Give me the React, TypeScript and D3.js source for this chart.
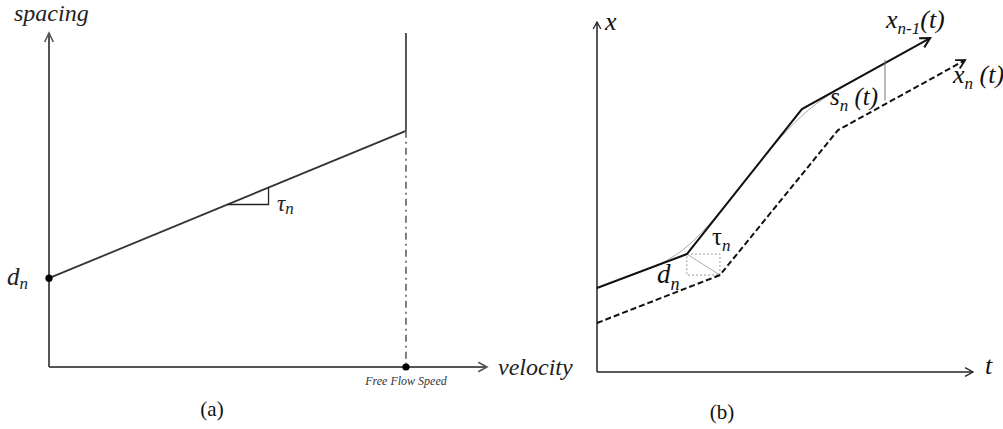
import React from "react";
import * as d3 from "d3";

// Panel (a): spacing–velocity relation
const velocityDomain = [0, 12.27];
const spacingDomain = [0, 10];
const freeFlowSpeed = 10;
const jamSpacing = 2.66; // d_n
const reactionTime = 0.441; // tau_n (slope)
const slopeMarker = [5, 6.15]; // velocities spanning the slope triangle

// Panel (b): trajectories
const timeDomain = [0, 10];
const positionDomain = [0, 10];
const leaderT = [0, 2.39, 5.45, 8.86];
const leaderX = [2.4, 3.37, 7.51, 9.54];
const followerT = [0, 3.27, 6.41, 9.79];
const followerX = [1.4, 2.77, 6.91, 8.91];
const smoothT = [1.2, 2.39, 3.9, 5.45, 6.9];
const smoothX = [2.89, 3.37, 5.42, 7.51, 8.37];
const gapT = 7.66;
const gapLeaderX = 8.92;
const gapFollowerX = 7.76;

const FONT = "Liberation Serif";

function chevron(x: number, y: number, angle: number, len = 11, spread = 0.5) {
  const a1 = angle + Math.PI - spread;
  const a2 = angle + Math.PI + spread;
  return `M${x + len * Math.cos(a1)},${y + len * Math.sin(a1)}L${x},${y}L${x + len * Math.cos(a2)},${y + len * Math.sin(a2)}`;
}

export default function App() {
  // panel (a) scales
  const ax = d3.scaleLinear().domain(velocityDomain).range([49, 487]);
  const ay = d3.scaleLinear().domain(spacingDomain).range([367, 33]);
  const spacingAt = (v: number) => jamSpacing + reactionTime * v;

  // panel (b) scales
  const bx = d3.scaleLinear().domain(timeDomain).range([597, 973]);
  const by = d3.scaleLinear().domain(positionDomain).range([372, 22]);

  const leader = leaderT.map((t, i) => [bx(t), by(leaderX[i])] as [number, number]);
  const follower = followerT.map((t, i) => [bx(t), by(followerX[i])] as [number, number]);
  const smooth = smoothT.map((t, i) => [bx(t), by(smoothX[i])] as [number, number]);
  const polyline = d3.line();
  const smoothLine = d3.line().curve(d3.curveBasis);

  const lastAngle = (pts: [number, number][]) => {
    const [p, q] = [pts[pts.length - 2], pts[pts.length - 1]];
    return Math.atan2(q[1] - p[1], q[0] - p[0]);
  };
  const lEnd = leader[leader.length - 1];
  const fEnd = follower[follower.length - 1];
  const lKink = leader[1];
  const fKink = follower[1];

  const axisA = "#555";
  const x0 = ax(0), y0 = ay(0);
  const vff = ax(freeFlowSpeed);

  return (
    <svg width={1003} height={429} style={{ position: "absolute", left: 0, top: 0, background: "#fff" }}>
      {/* ---------- panel (a) ---------- */}
      <g fill="none" stroke={axisA} strokeWidth={2}>
        <line x1={x0} y1={y0} x2={x0} y2={ay(10)} />
        <path d={chevron(x0, ay(10), -Math.PI / 2, 10, 0.45)} strokeWidth={1.6} />
        <line x1={x0} y1={y0} x2={ax(velocityDomain[1])} y2={y0} />
        <path d={chevron(ax(velocityDomain[1]), y0, 0, 10, 0.5)} strokeWidth={1.6} />
      </g>
      <line x1={x0} y1={ay(spacingAt(0))} x2={vff} y2={ay(spacingAt(freeFlowSpeed))} stroke="#333" strokeWidth={1.8} />
      <line x1={vff} y1={ay(spacingAt(freeFlowSpeed))} x2={vff} y2={ay(10)} stroke="#555" strokeWidth={2} />
      <line x1={vff} y1={ay(spacingAt(freeFlowSpeed))} x2={vff} y2={y0} stroke="#555" strokeWidth={1.5} strokeDasharray="7,4,2,4" />
      <path
        d={`M${ax(slopeMarker[0])},${ay(spacingAt(slopeMarker[0]))}H${ax(slopeMarker[1])}V${ay(spacingAt(slopeMarker[1]))}`}
        fill="none" stroke="#222" strokeWidth={1.3}
      />
      <circle cx={x0} cy={ay(jamSpacing)} r={3.6} fill="#000" />
      <circle cx={vff} cy={y0} r={3.6} fill="#000" />

      <g fontFamily={FONT} fill="#222">
        <text x={14} y={21} fontStyle="italic" fontSize={24}>spacing</text>
        <text x={498} y={375} fontStyle="italic" fontSize={24}>velocity</text>
        <text x={vff} y={385} textAnchor="middle" fontStyle="italic" fontSize={12} fill="#333">Free Flow Speed</text>
        <text x={7} y={285} fontStyle="italic" fontSize={25}>
          d<tspan fontSize={17} dy={4}>n</tspan>
        </text>
        <text x={277} y={211} fontStyle="italic" fontSize={23}>
          τ<tspan fontSize={17} dy={3}>n</tspan>
        </text>
        <text x={212} y={416} textAnchor="middle" fontSize={21} fill="#111">(a)</text>
      </g>

      {/* ---------- panel (b) ---------- */}
      <g fill="none" stroke="#222" strokeWidth={1.5}>
        <line x1={bx(0)} y1={by(0)} x2={bx(0)} y2={by(10)} />
        <path d={chevron(bx(0), by(10), -Math.PI / 2, 8, 0.5)} strokeWidth={1.3} />
        <line x1={bx(0)} y1={by(0)} x2={bx(10)} y2={by(0)} />
        <path d={chevron(bx(10), by(0), 0, 9, 0.5)} strokeWidth={1.3} />
      </g>

      <path d={smoothLine(smooth) || ""} fill="none" stroke="#aaa" strokeWidth={1} />
      {/* headway box between leader and follower kinks */}
      <rect
        x={lKink[0]} y={lKink[1]} width={fKink[0] - lKink[0]} height={fKink[1] - lKink[1]}
        fill="none" stroke="#999" strokeWidth={1} strokeDasharray="2,2"
      />
      <line x1={lKink[0]} y1={lKink[1]} x2={fKink[0]} y2={fKink[1]} stroke="#aaa" strokeWidth={1} />

      <path d={polyline(leader) || ""} fill="none" stroke="#111" strokeWidth={2} />
      <path d={chevron(lEnd[0], lEnd[1], lastAngle(leader), 11, 0.5)} fill="none" stroke="#111" strokeWidth={2} />
      <path d={polyline(follower) || ""} fill="none" stroke="#111" strokeWidth={2} strokeDasharray="6,3" />
      <path d={chevron(fEnd[0], fEnd[1], lastAngle(follower), 10, 0.5)} fill="none" stroke="#111" strokeWidth={1.8} />

      <line x1={bx(gapT)} y1={by(gapLeaderX)} x2={bx(gapT)} y2={by(gapFollowerX)} stroke="#777" strokeWidth={1} />

      <g fontFamily={FONT} fill="#111">
        <text x={605} y={30} fontStyle="italic" fontSize={26}>x</text>
        <text x={985} y={374} fontStyle="italic" fontSize={26}>t</text>
        <text x={886} y={28} fontStyle="italic" fontSize={26}>
          x<tspan fontSize={17} dy={6}>n-1</tspan><tspan dy={-6}>(t)</tspan>
        </text>
        <text x={953} y={83} fontStyle="italic" fontSize={26}>
          x<tspan fontSize={17} dy={6}>n</tspan><tspan dy={-6}> (t)</tspan>
        </text>
        <text x={830} y={105} fontStyle="italic" fontSize={25}>
          s<tspan fontSize={17} dy={6}>n</tspan><tspan dy={-6}> (t)</tspan>
        </text>
        <text x={712} y={245} fontSize={25}>
          τ<tspan fontSize={17} dy={6} fontStyle="italic">n</tspan>
        </text>
        <text x={657} y={283} fontStyle="italic" fontSize={27}>
          d<tspan fontSize={18} dy={7}>n</tspan>
        </text>
        <text x={722} y={419} textAnchor="middle" fontSize={21}>(b)</text>
      </g>
    </svg>
  );
}
